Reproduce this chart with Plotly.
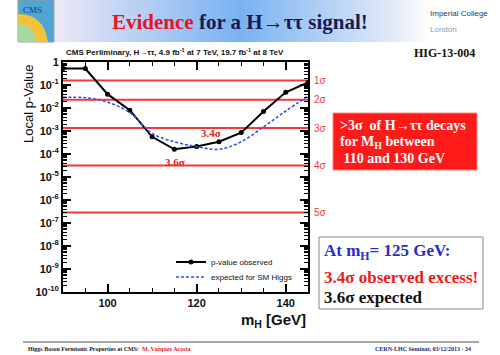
import math
import plotly.graph_objects as go

W, H = 500, 355

# ---- data ----
mass = [90, 95, 100, 105, 110, 115, 120, 125, 130, 135, 140, 145]
p_obs = [0.52, 0.52, 0.040, 0.0080, 5.6e-4, 1.6e-4, 2.1e-4, 3.4e-4, 8.5e-4, 0.0070, 0.048, 0.13]
p_exp = [0.029, 0.028, 0.018, 0.0063, 7.9e-4, 3.4e-4, 2.1e-4, 1.6e-4, 3.4e-4, 1.5e-3, 7.4e-3, 0.033]
sigma_labels = ["1σ", "2σ", "3σ", "4σ", "5σ"]
sigma_p = [0.1587, 0.02275, 0.00135, 3.17e-5, 2.87e-7]
y_exponents = list(range(-10, 1))
x_ticks = [100, 120, 140]

def px(x):
    return x / W

def py(y):
    return 1 - y / H

X0, X1 = 63, 308
Y0, Y1 = 62, 292

fig = go.Figure()

fig.add_trace(go.Scatter(
    x=mass, y=p_obs, mode="lines+markers", name="p-value observed", legend="legend",
    line=dict(color="black", width=2), marker=dict(color="black", size=5, symbol="circle")))
fig.add_trace(go.Scatter(
    x=mass, y=p_exp, mode="lines", name="expected for SM Higgs", legend="legend2",
    line=dict(color="#2f4ff0", width=1.6, dash="3px,2px"), line_shape="spline"))

shapes = []
annotations = []

def note(x, y, text, size, color, family="Liberation Serif", xanchor="center",
         xref="paper", yref="paper", **kw):
    if xref == "paper":
        x = px(x)
    if yref == "paper":
        y = py(y)
    annotations.append(dict(xref=xref, yref=yref, x=x, y=y, text=text, showarrow=False,
                            xanchor=xanchor, yanchor="middle",
                            font=dict(family=family, size=size, color=color), **kw))

# sigma lines
for lab, p in zip(sigma_labels, sigma_p):
    shapes.append(dict(type="line", xref="x", yref="y", x0=90, x1=145, y0=p, y1=p,
                       line=dict(color="#f03a3a", width=2), layer="below"))
    note(312, math.log10(p), lab, 10, "#f03a3a", family="Liberation Sans", xanchor="left", yref="y")

# banner gradient
def lerp(c1, c2, t):
    return tuple(int(round(a + (b - a) * t)) for a, b in zip(c1, c2))

stops = [(55, (238, 232, 246)), (240, (118, 178, 242)), (400, (232, 236, 248)), (428, (255, 255, 255))]
n = 80
for i in range(n):
    xa = 55 + (428 - 55) * i / n
    xb = 55 + (428 - 55) * (i + 1) / n
    xm = (xa + xb) / 2
    for (sa, ca), (sb, cb) in zip(stops[:-1], stops[1:]):
        if sa <= xm <= sb:
            c = lerp(ca, cb, (xm - sa) / (sb - sa))
            break
    shapes.append(dict(type="rect", xref="paper", yref="paper", x0=px(xa), x1=px(xb) + 0.001,
                       y0=py(42), y1=py(0), fillcolor="rgb(%d,%d,%d)" % c, line=dict(width=0), layer="below"))

# CMS logo
shapes.append(dict(type="rect", xref="paper", yref="paper", x0=px(18), x1=px(54), y0=py(42), y1=py(0),
                   fillcolor="#4fa6d6", line=dict(color="#9a9a9a", width=1)))
shapes.append(dict(type="path", xref="paper", yref="paper",
                   path="M %f %f L %f %f Q %f %f %f %f Z" % (px(18), py(42), px(18), py(14),
                                                          px(44), py(14), px(48), py(42)),
                   fillcolor="#f2c23c", line=dict(width=0)))
shapes.append(dict(type="path", xref="paper", yref="paper",
                   path="M %f %f L %f %f Q %f %f %f %f Z" % (px(18), py(42), px(18), py(24),
                                                          px(34), py(24), px(36), py(42)),
                   fillcolor="#a8d8a0", line=dict(width=0)))
note(32, 10, "CMS", 9, "#1a3a6a")

# banner title
note(240, 22, "<b><span style='color:#e8141e'>Evidence</span> for a H→ττ signal!</b>", 21, "#1a1a50")
note(428, 14, "Imperial College", 8, "#1c3a6e", family="Liberation Sans", xanchor="left")
note(428, 29, "London", 8, "#8a9ab0", family="Liberation Sans", xanchor="left")
note(444, 53, "<b>HIG-13-004</b>", 12, "#111")

# chart title
note(64, 52, "<b>CMS Perliminary, H→ττ, 4.9 fb<sup>-1</sup> at 7 TeV, 19.7 fb<sup>-1</sup> at 8 TeV</b>",
     8, "#111", family="Liberation Sans", xanchor="left")

# axis titles
note(28, 104, "Local p-Value", 13, "#111", family="Liberation Sans", textangle=-90)
note(308, 320, "<b>m<sub>H</sub> [GeV]</b>", 15, "#111", family="Liberation Sans", xanchor="right")

# sigma annotations in plot
note(123.3, -3.09, "<b>3.4σ</b>", 11, "#e82020", xref="x", yref="y")
note(115.1, -4.35, "<b>3.6σ</b>", 11, "#e82020", xref="x", yref="y")

# red box
shapes.append(dict(type="rect", xref="paper", yref="paper", x0=px(333), x1=px(477), y0=py(170), y1=py(113),
                   fillcolor="#ff1a1a", line=dict(color="#ff8080", width=1)))
for txt, yy in [("&gt;3σ  of H→ττ decays", 126), ("for M<sub>H</sub> between", 142), (" 110 and 130 GeV", 158)]:
    note(338, yy, "<b>" + txt + "</b>", 14, "white", xanchor="left")

# gray box
shapes.append(dict(type="rect", xref="paper", yref="paper", x0=px(319), x1=px(483), y0=py(309), y1=py(237),
                   fillcolor="white", line=dict(color="#8a8a8a", width=1)))
for txt, yy, col in [("At m<sub>H</sub>= 125 GeV:", 252, "#2a2ad0"),
                     ("3.4σ observed excess!", 277, "#f01818"),
                     ("3.6σ expected", 297, "#111111")]:
    note(322, yy, "<b>" + txt + "</b>", 17, col, xanchor="left")

# footer
shapes.append(dict(type="line", xref="paper", yref="paper", x0=px(23), x1=px(479), y0=py(342), y1=py(342),
                   line=dict(color="#888", width=1.5)))
note(26, 349, "<b>Higgs Boson Fermionic Properties at CMS:  <span style='color:#ee2020'>M. Vazquez Acosta</span></b>",
     6, "#222", xanchor="left")
note(473, 349, "<b>CERN-LHC Seminar, 03/12/2013 - 34</b>", 6, "#1a2a6a", xanchor="right")

y_tickvals = [10.0 ** e for e in y_exponents]
y_ticktext = ["<b>1</b>" if e == 0 else "<b>10<sup>%d</sup></b>" % e for e in y_exponents]

legend_style = dict(xanchor="left", yanchor="middle", bgcolor="rgba(0,0,0,0)",
                    font=dict(family="Liberation Sans", size=8, color="#111"),
                    itemwidth=30, borderwidth=0)

fig.update_layout(
    width=W, height=H, margin=dict(l=0, r=0, t=0, b=0, autoexpand=False),
    paper_bgcolor="white", plot_bgcolor="white",
    shapes=shapes, annotations=annotations,
    showlegend=True,
    legend=dict(x=px(171), y=py(262), **legend_style),
    legend2=dict(x=px(171), y=py(277), **legend_style),
    xaxis=dict(domain=[px(X0), px(X1)], range=[90, 145], tickvals=x_ticks,
               ticktext=["<b>%d</b>" % v for v in x_ticks], automargin=False,
               ticks="inside", ticklen=8, tickwidth=1.5, tickcolor="black",
               minor=dict(ticks="inside", ticklen=4, dtick=5, tick0=90, tickcolor="black", tickwidth=1.2),
               showline=True, linecolor="black", linewidth=2, mirror="ticks",
               showgrid=False, zeroline=False,
               tickfont=dict(family="Liberation Sans", size=11, color="#111")),
    yaxis=dict(domain=[py(Y1), py(Y0)], type="log", range=[-10, 0], automargin=False,
               tickvals=y_tickvals, ticktext=y_ticktext,
               ticks="inside", ticklen=8, tickwidth=1.5, tickcolor="black",
               minor=dict(ticks="inside", ticklen=4, dtick="D1", tickcolor="black", tickwidth=1),
               showline=True, linecolor="black", linewidth=2, mirror="ticks",
               showgrid=False, zeroline=False,
               tickfont=dict(family="Liberation Sans", size=11, color="#111")),
)

fig.write_html("out.html", config={"displayModeBar": False},
               post_script="document.body.style.margin='0';document.body.style.overflow='hidden';")
